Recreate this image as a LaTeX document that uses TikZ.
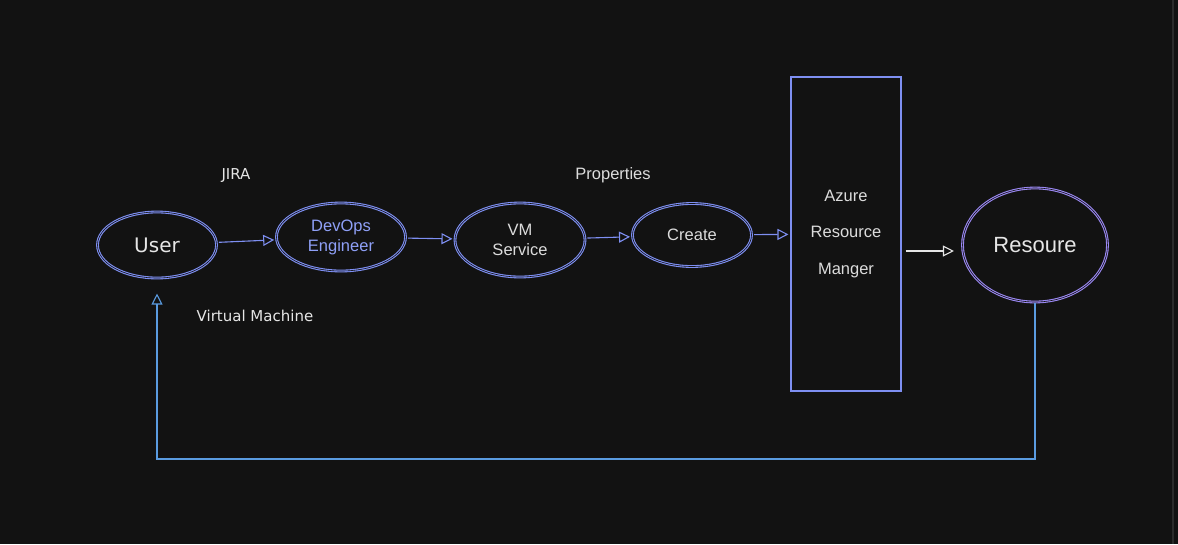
\documentclass[tikz,border=0pt]{standalone}
\usepackage{fontspec}
\setmainfont{Liberation Sans}
\newfontfamily\handfont{DejaVu Sans}
\usepackage{tikz}
\usetikzlibrary{arrows.meta,positioning,shapes.geometric,calc}

\definecolor{bgdark}{HTML}{121212}
\definecolor{edgegray}{HTML}{2B2B2B}
\definecolor{sketchblue}{HTML}{7E8FF2}
\definecolor{sketchviolet}{HTML}{9A88F2}
\definecolor{loopblue}{HTML}{5A9BE0}
\definecolor{softwhite}{HTML}{E6E6E6}
\definecolor{labelblue}{HTML}{8FA0F7}

\begin{document}
\begin{tikzpicture}[x=1pt,y=-1pt,
                    >={Triangle[open,length=11pt,width=11pt]},
                    blob/.style={ellipse,draw=sketchblue,line width=1.1pt,
                                 double=bgdark,double distance=0.6pt,
                                 inner sep=0pt,align=center,text=softwhite,
                                 font=\fontsize{16.5}{20}\selectfont},
                    flow/.style={->,draw=sketchblue,line width=1.1pt,shorten <=2pt,shorten >=2pt},
                    note/.style={text=softwhite,font=\handfont\fontsize{15}{18}\selectfont}]
% canvas
\fill[bgdark] (0,0) rectangle (1178,544);
\useasboundingbox (0,0) rectangle (1178,544);
\draw[edgegray,line width=1.2pt] (1173,0) -- (1173,544);

\node[blob,minimum width=119pt,minimum height=66pt,
      font=\handfont\fontsize{20}{24}\selectfont] (user) at (157,245) {User};
\node[blob,minimum width=129pt,minimum height=68pt,text=labelblue] (devops) at (341,237) {DevOps\\Engineer};
\node[blob,minimum width=130pt,minimum height=74pt,text=softwhite!90!gray] (vm) at (520,240) {VM\\Service};
\node[blob,minimum width=119pt,minimum height=63pt,text=softwhite!90!gray] (create) at (692,235) {Create};
\node[draw=sketchblue,line width=1.1pt,minimum width=110pt,minimum height=314pt,
      inner sep=0pt,align=center,text=softwhite!90!gray,
      font=\fontsize{16.5}{36.5}\selectfont] (arm) at (846,234) {Azure\\Resource\\Manger};
\node[blob,draw=sketchviolet,minimum width=145pt,minimum height=114pt,
      font=\fontsize{22}{26}\selectfont] (res) at (1035,245) {Resoure};

% notes
\node[note] (jira)  at (236,176) {JIRA};
\node[note,font=\fontsize{16.5}{20}\selectfont,text=softwhite!90!gray] (props) at (613,175) {Properties};
\node[note] (vmach) at (255,316) {Virtual Machine};

% flow
\draw[flow] (user)   -- (devops);
\draw[flow] (devops) -- (vm);
\draw[flow] (vm)     -- (create);
\draw[flow] (create) -- (arm);
\draw[->,draw=softwhite,line width=1.1pt,shorten >=8pt]
  ($(arm.east |- res.west)+(4,6)$) -- ($(res.west)+(0,6)$);

% back to the user
\coordinate (loop) at (0,459);
\draw[->,draw=loopblue,line width=1.1pt,shorten >=15pt]
  (res.south) |- (user.south |- loop) -- (user.south);
\end{tikzpicture}
\end{document}
